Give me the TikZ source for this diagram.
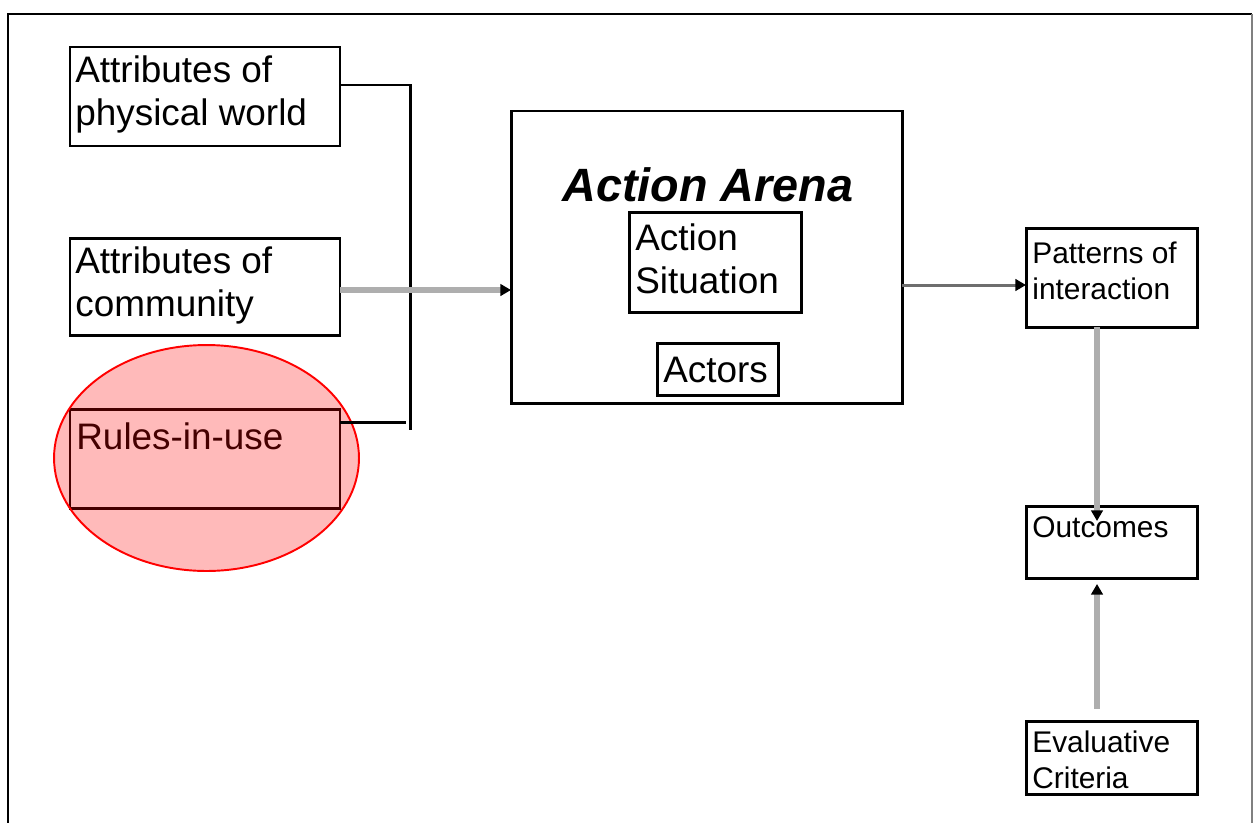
\documentclass[tikz,border=0pt]{standalone}
\usepackage{fontspec}
\setmainfont{Liberation Sans}
\usetikzlibrary{arrows.meta,calc,fit,shapes.geometric}
\definecolor{lgray}{HTML}{AEAEAE}
\definecolor{dgray}{HTML}{6E6E6E}
\begin{document}
\begin{tikzpicture}[x=0.02cm,y=-0.02cm,
  box/.style={draw=black,line width=1.7pt,inner sep=0pt,outer sep=0pt},
  bigtext/.style={font=\fontsize{21}{24.4}\selectfont,inner sep=0pt,anchor=base west,align=left},
  smalltext/.style={font=\fontsize{17}{20.4}\selectfont,inner sep=0pt,anchor=base west,align=left},
  titletext/.style={font=\fontsize{26.6}{30}\selectfont\bfseries\itshape,inner sep=0pt,anchor=base},
  blkline/.style={draw=black,line width=1.7pt},
  grayline/.style={draw=lgray,line width=3.4pt},
  darkline/.style={draw=dgray,line width=1.7pt},
  tiphead/.style={-{Triangle[length=6pt,width=6.5pt,color=black]}}
]
\useasboundingbox (0,0) rectangle (1253,822);
% outer frame
\draw[line width=1.7pt] (8,840) -- (8,14) -- (1252,14);
\draw[gray,line width=1.2pt] (1252,14) -- (1252,840);

% boxes
\node[box,fit={(70,47) (340,146)}] (b1) {};
\node[box,fit={(70,238) (340,335)}] (b2) {};
\node[box,fit={(70,409) (340,508)}] (b3) {};
\node[box,fit={(511,111) (902,403)}] (arena) {};
\node[box,fit={(629,212) (801,312)}] (sit) {};
\node[box,fit={(657,343) (778,395)}] (actors) {};
\node[box,fit={(1026,228) (1197,327)}] (pat) {};
\node[box,fit={(1026,506) (1197,578)}] (out) {};
\node[box,fit={(1026,721) (1197,794)}] (eval) {};

% texts (base anchor = baseline of the last line)
\node[bigtext] (t1) at (75,125) {Attributes of\\physical world};
\node[bigtext] (t2) at (75,316) {Attributes of\\community};
\node[bigtext] (t3) at (76,449) {Rules-in-use};
\node[titletext] (ttitle) at (708,201) {Action Arena};
\node[bigtext] (tsit) at (635,293) {Action\\Situation};
\node[bigtext] (tact) at (663,382) {Actors};
\node[smalltext] (tpat) at (1032,299) {Patterns of\\interaction};
\node[smalltext] (tout) at (1032,537) {Outcomes};
\node[smalltext] (teval) at (1032,788) {Evaluative\\Criteria};

% red highlight
\node[ellipse,draw=red,line width=1.1pt,fill=red,fill opacity=0.27,
      minimum width=6.1cm,minimum height=4.52cm,inner sep=0pt] (hl) at (206.5,458) {};

% bracket
\coordinate (jt) at (410,85);
\coordinate (jb) at (410,430);
\coordinate (jr) at (406,422);
\draw[blkline] (b1.east |- jt) -- (jt) -- (jb);
\draw[blkline] (b3.east |- jr) -- (jr);

% connectors
\coordinate (ya) at (0,290);
\coordinate (yb) at (0,285);
\coordinate (xc) at (1097,0);
\draw[grayline,tiphead] (b2.east |- ya) -- (arena.west |- ya);
\draw[darkline,tiphead] (arena.east |- yb) -- (pat.west |- yb);
\draw[grayline,tiphead] (pat.south -| xc) -- ($(out.north -| xc)+(0,15)$);
\draw[grayline,tiphead,shorten <=6.8pt,shorten >=3.4pt] (eval.north -| xc) -- (out.south -| xc);
\end{tikzpicture}
\end{document}
